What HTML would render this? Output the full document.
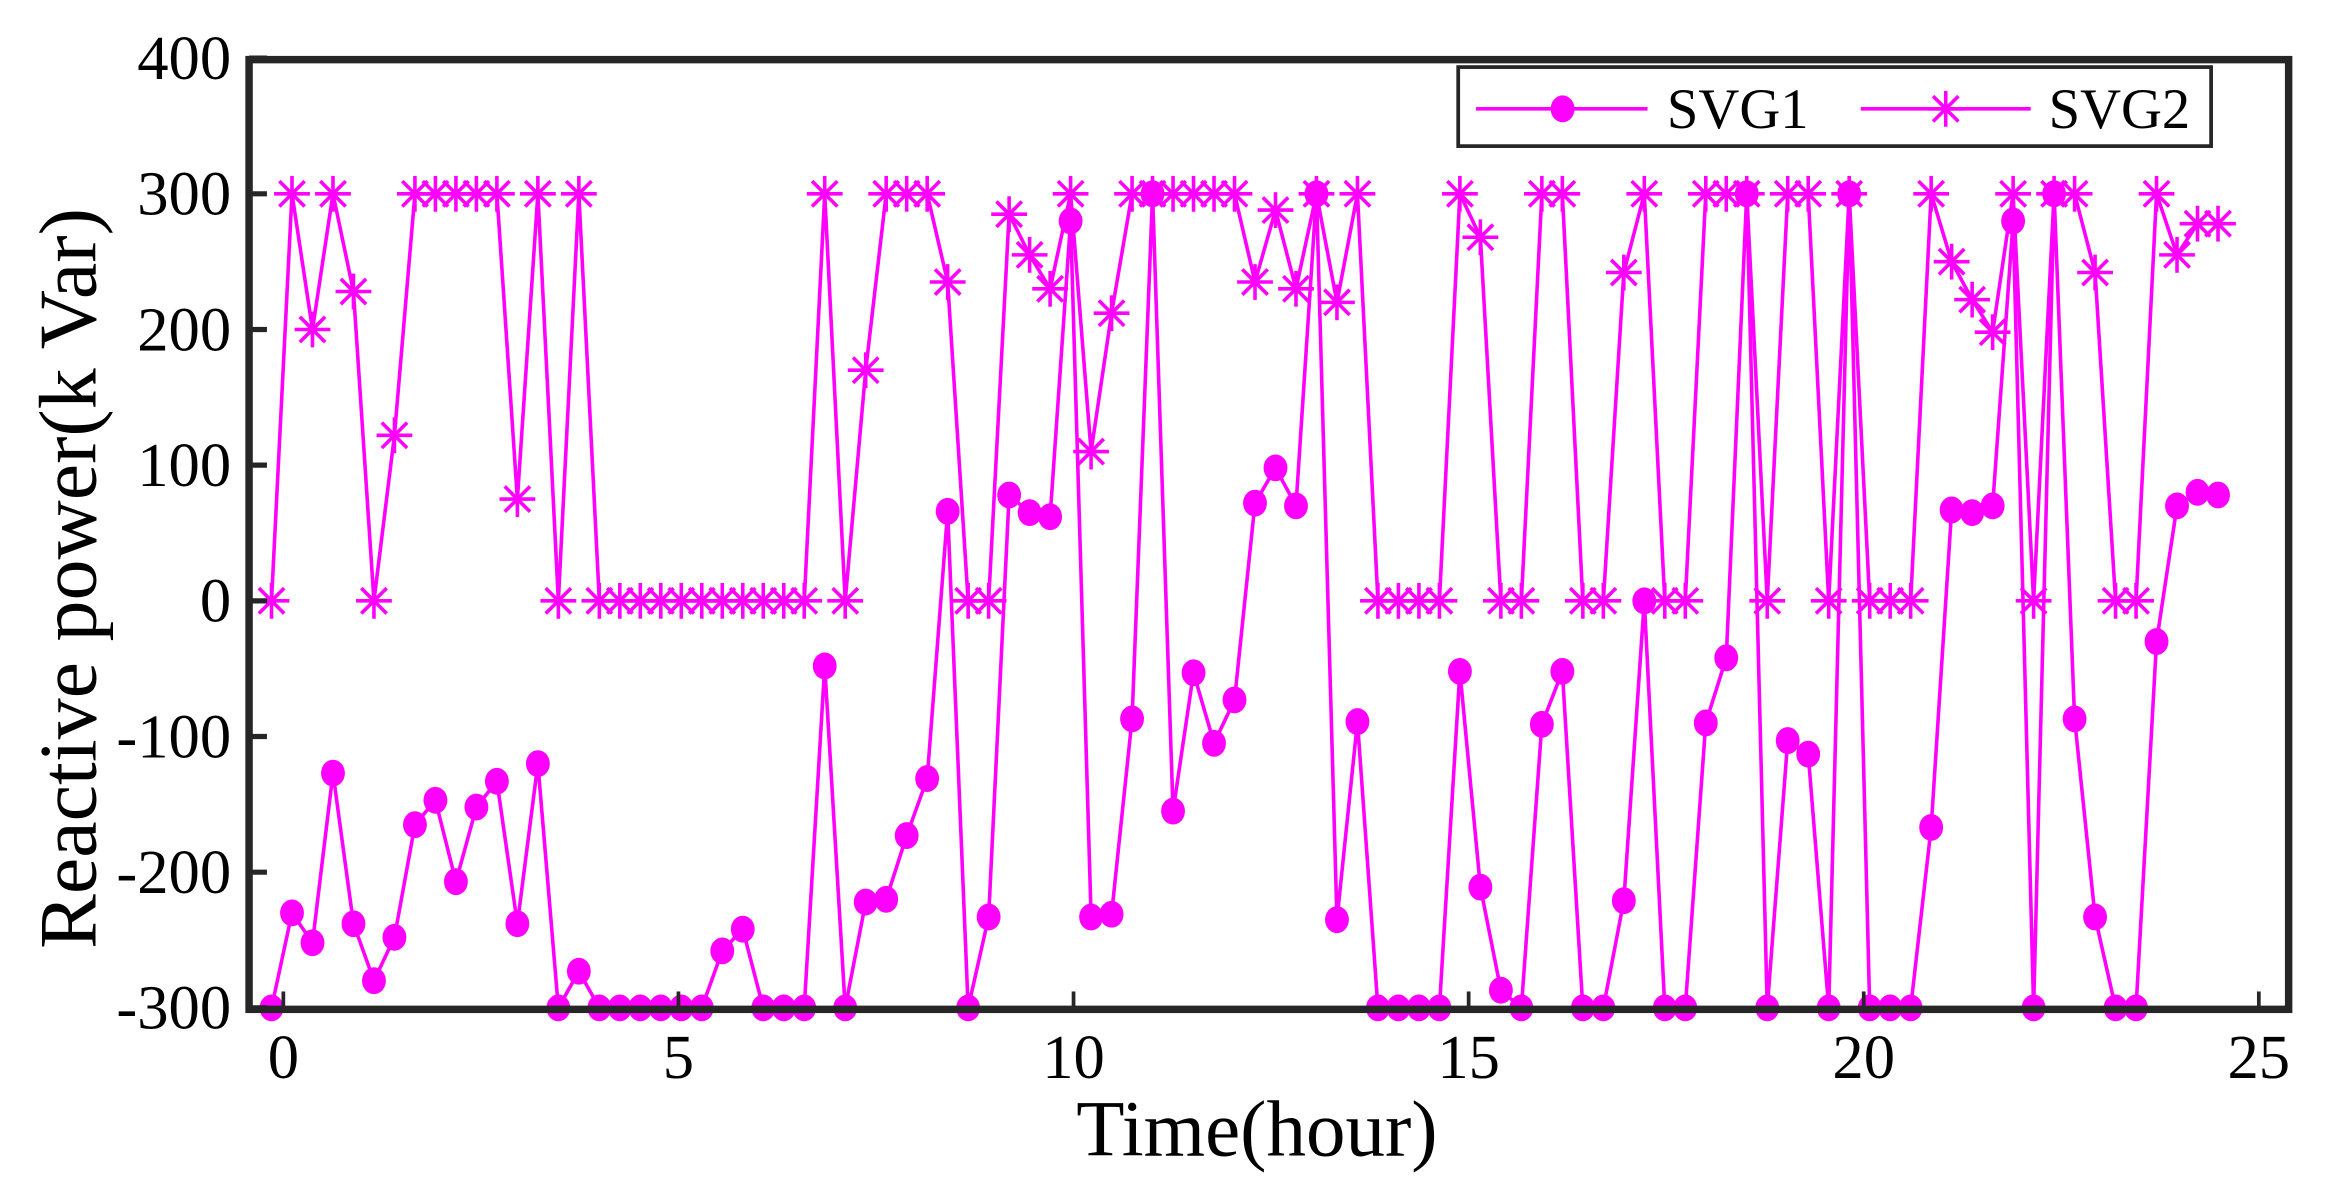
<!DOCTYPE html>
<html><head><meta charset="utf-8"><style>
html,body{margin:0;padding:0;background:#fff;}
svg{display:block;}
text{font-family:"Liberation Serif",serif;fill:#000;}
</style></head><body>
<svg id="chart" width="2326" height="1182" viewBox="0 0 1560 792.8" xmlns="http://www.w3.org/2000/svg">
<g id="plot"></g>
</svg>
<script>
const xTicks=[0,5,10,15,20,25];
const yTicks=[-300,-200,-100,0,100,200,300,400];
const tStart=-0.15, tStep=0.2593;
const svg1=[-300,-230,-252,-127,-238,-280,-248,-165,-147,-207,-152,-133,-238,-120,-300,-273,-300,-300,-300,-300,-300,-300,-258,-242,-300,-300,-300,-48,-300,-222,-220,-173,-131,66,-300,-233,78,65,62,280,-233,-231,-87,300,-155,-53,-105,-73,72,98,70,300,-235,-89,-300,-300,-300,-300,-52,-211,-287,-300,-91,-52,-300,-300,-221,0,-300,-300,-90,-42,300,-300,-103,-113,-300,300,-300,-300,-300,-167,67,65,70,280,-300,300,-87,-233,-300,-300,-30,70,80,78];
const svg2=[0,300,200,300,228,0,122,300,300,300,300,300,75,300,0,300,0,0,0,0,0,0,0,0,0,0,0,300,0,170,300,300,300,235,0,0,285,255,230,300,110,212,300,300,300,300,300,300,235,288,230,300,220,300,0,0,0,0,300,268,0,0,300,300,0,0,242,300,0,0,300,300,300,0,300,300,0,300,0,0,0,300,250,222,198,300,0,300,300,242,0,0,300,255,278,278];

const NS="http://www.w3.org/2000/svg";
const g=document.getElementById('plot');
const L=167,R=1535,T=40,B=677;
const xs=t=>190+(t-0)*(1515-190)/25;
const ys=v=>403-v*(677-40)/700;
const C='#ff00ff';
function mk(tag,attrs,parent){const e=document.createElementNS(NS,tag);for(const k in attrs)e.setAttribute(k,attrs[k]);(parent||g).appendChild(e);return e;}

function drawSeries(vals,name,marker){
  const grp=mk('g',{});
  
  
  const pts=vals.map((v,i)=>[xs(tStart+i*tStep),ys(v)]);
  const pl=mk('polyline',{points:pts.map(p=>p.join(',')).join(' '),fill:'none',stroke:C,'stroke-width':2.4},grp);
  
  
  pts.forEach(p=>{
    const m=marker(p[0],p[1],grp);
    
    
  });
}
function dot(x,y,p){return mk('ellipse',{cx:x,cy:y,rx:8,ry:9,fill:C},p);}
function star(x,y,p){
  const s=mk('g',{stroke:C,'stroke-width':2.4},p);
  const r=12;
  mk('line',{x1:x-r,y1:y,x2:x+r,y2:y},s);
  mk('line',{x1:x,y1:y-r,x2:x,y2:y+r},s);
  mk('line',{x1:x-8.5,y1:y-8.5,x2:x+8.5,y2:y+8.5},s);
  mk('line',{x1:x-8.5,y1:y+8.5,x2:x+8.5,y2:y-8.5},s);
  return s;
}
drawSeries(svg2,'svg2',star);
drawSeries(svg1,'svg1',dot);

const box=mk('rect',{x:L,y:T,width:R-L,height:B-T,fill:'none',stroke:'#262626','stroke-width':5});


xTicks.forEach(t=>{
  const x=xs(t);
  const tk=mk('line',{x1:x,y1:B,x2:x,y2:B-12,stroke:'#262626','stroke-width':2.5});
  
  
  const lb=mk('text',{x:x,y:B+46,'text-anchor':'middle','font-size':42});
  lb.textContent=t;
  
  
});
yTicks.forEach(v=>{
  const y=ys(v);
  const tk=mk('line',{x1:L,y1:y,x2:L+12,y2:y,stroke:'#262626','stroke-width':3.5});
  
  
  const lb=mk('text',{x:L-12,y:y+14,'text-anchor':'end','font-size':42});
  lb.textContent=v;
  
  
});
const xl=mk('text',{x:843,y:775,'text-anchor':'middle','font-size':53});
xl.textContent='Time(hour)';


const yl=mk('text',{x:0,y:0,'text-anchor':'middle','font-size':55,transform:'translate(64,388) rotate(-90)'});
yl.textContent='Reactive power(k Var)';



const lg=mk('g',{});


mk('rect',{x:978,y:45,width:505,height:53,fill:'#fff',stroke:'#262626','stroke-width':2.5},lg);
const e1=mk('g',{},lg);


mk('line',{x1:990,y1:73,x2:1105,y2:73,stroke:C,'stroke-width':2.4},e1);
dot(1048,73,e1);
const t1=mk('text',{x:1118,y:86,'font-size':38},e1);t1.textContent='SVG1';
const e2=mk('g',{},lg);


mk('line',{x1:1248,y1:73,x2:1362,y2:73,stroke:C,'stroke-width':2.4},e2);
star(1305,73,e2);
const t2=mk('text',{x:1374,y:86,'font-size':38},e2);t2.textContent='SVG2';
</script>
</body></html>
